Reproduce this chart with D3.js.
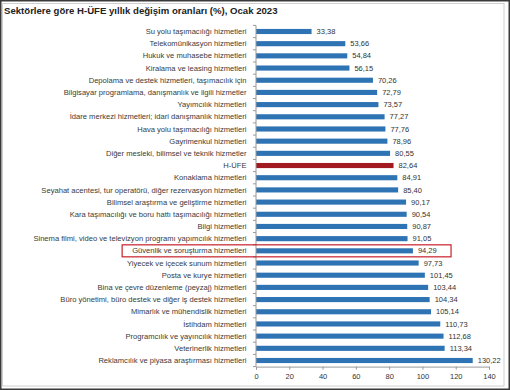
<!DOCTYPE html>
<html><head><meta charset="utf-8">
<script src="https://cdn.jsdelivr.net/npm/d3@7"></script>
<style>body{margin:0;background:#fff}svg{display:block;font-family:Arial,"Liberation Sans",sans-serif}</style>
</head><body><svg id="c" width="510" height="390"></svg>
<script>
const title = "Sektörlere göre H-ÜFE yıllık değişim oranları (%), Ocak 2023";
const categories = [
 "Su yolu taşımacılığı hizmetleri","Telekomünikasyon hizmetleri","Hukuk ve muhasebe hizmetleri","Kiralama ve leasing hizmetleri",
 "Depolama ve destek hizmetleri, taşımacılık için","Bilgisayar programlama, danışmanlık ve ilgili hizmetler","Yayımcılık hizmetleri",
 "İdare merkezi hizmetleri; idari danışmanlık hizmetleri","Hava yolu taşımacılığı hizmetleri","Gayrimenkul hizmetleri",
 "Diğer mesleki, bilimsel ve teknik hizmetler","H-ÜFE","Konaklama hizmetleri","Seyahat acentesi, tur operatörü, diğer rezervasyon hizmetleri",
 "Bilimsel araştırma ve geliştirme hizmetleri","Kara taşımacılığı ve boru hattı taşımacılığı hizmetleri","Bilgi hizmetleri",
 "Sinema filmi, video ve televizyon programı yapımcılık hizmetleri","Güvenlik ve soruşturma hizmetleri","Yiyecek ve içecek sunum hizmetleri",
 "Posta ve kurye hizmetleri","Bina ve çevre düzenleme (peyzaj) hizmetleri","Büro yönetimi, büro destek ve diğer iş destek hizmetleri",
 "Mimarlık ve mühendislik hizmetleri","İstihdam hizmetleri","Programcılık ve yayıncılık hizmetleri","Veterinerlik hizmetleri",
 "Reklamcılık ve piyasa araştırması hizmetleri"];
const values = [33.38,53.66,54.84,56.15,70.26,72.79,73.57,77.27,77.76,78.96,80.55,82.64,84.91,85.40,90.17,90.54,90.87,91.05,94.29,97.73,101.45,103.44,104.34,105.14,110.73,112.68,113.34,130.22];
const xTicks = [0,20,40,60,80,100,120,140];
const highlightTotal = "H-ÜFE";
const highlightBox = "Güvenlik ve soruşturma hizmetleri";

const svg = d3.select("#c");
const data = categories.map((c,i)=>({c, v: values[i]}));
const x = d3.scaleLinear().domain([0,140]).range([256,489]);
const y = d3.scaleBand().domain(categories).range([25.4,366.6]).paddingInner(0.58).paddingOuter(0.29);
const fmt = v => d3.format(".2f")(v).replace(".", ",");

// frames
svg.append("rect").attr("x",0.75).attr("y",0.75).attr("width",508.5).attr("height",388.5).attr("fill","none").attr("stroke","#3a3a3a").attr("stroke-width",1.5);
svg.append("rect").attr("x",2.5).attr("y",3.5).attr("width",501.5).attr("height",382.5).attr("fill","none").attr("stroke","#d0d0d0").attr("stroke-width",1);

svg.append("text").attr("x",4).attr("y",13.5).attr("font-size",9.6).attr("font-weight","bold").attr("fill","#222").text(title);

// bars
svg.selectAll("rect.bar").data(data).join("rect").attr("class","bar")
  .attr("x",x(0)).attr("y",d=>y(d.c)).attr("width",d=>x(d.v)-x(0)).attr("height",y.bandwidth())
  .attr("fill",d=>d.c===highlightTotal?"#a2191f":"#2e73b4");

// value labels
svg.selectAll("text.val").data(data).join("text").attr("class","val")
  .attr("x",d=>x(d.v)+5).attr("y",d=>y(d.c)+y.bandwidth()/2+2.6)
  .attr("font-size",7.5).attr("fill","#333").text(d=>fmt(d.v));

// category labels
const labels = svg.selectAll("text.cat").data(data).join("text").attr("class","cat")
  .attr("x",x(0)-9.5).attr("y",d=>y(d.c)+y.bandwidth()/2+2.6).attr("text-anchor","end")
  .attr("font-size",7.6).attr("fill","#3a3a3a").text(d=>d.c);

// y axis line and ticks between categories
svg.append("line").attr("x1",x(0)).attr("x2",x(0)).attr("y1",25.4).attr("y2",366.6).attr("stroke","#999");
const bounds = categories.map(c=>y(c)-y.step()*y.paddingInner()/2).concat([366.6]);
svg.selectAll("line.yt").data(bounds).join("line").attr("class","yt")
  .attr("x1",x(0)-3).attr("x2",x(0)).attr("y1",d=>d).attr("y2",d=>d).attr("stroke","#999");

// x axis
const xa = svg.append("g").attr("transform","translate(0,366.6)")
  .call(d3.axisBottom(x).tickValues(xTicks).tickSize(3).tickFormat(d3.format("d")));
xa.select(".domain").attr("stroke","#999");
xa.selectAll(".tick line").attr("stroke","#999");
xa.selectAll("text").attr("font-size",7.5).attr("fill","#333").attr("font-family","Arial,'Liberation Sans',sans-serif").attr("dy","0.9em");

// highlight box
const hb = labels.filter(d=>d.c===highlightBox).node().getBBox();
const yc = y(highlightBox)+y.bandwidth()/2;
svg.append("rect").attr("x",hb.x-10).attr("y",yc-6).attr("width",x(117.2)-(hb.x-10)).attr("height",12)
  .attr("fill","none").attr("stroke","#c8202a").attr("stroke-width",1.2);
</script></body></html>
